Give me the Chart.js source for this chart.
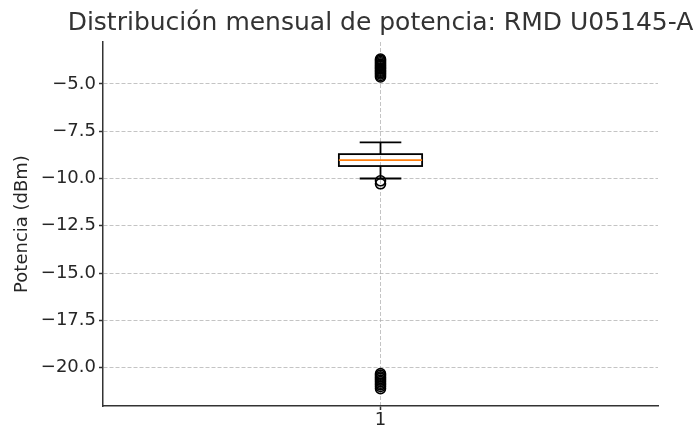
<!DOCTYPE html>
<html>
<head>
<meta charset="utf-8">
<script src="https://cdn.jsdelivr.net/npm/chart.js@4/dist/chart.umd.min.js"></script>
<style>
  html, body { margin: 0; padding: 0; background: #ffffff; }
  #wrap { width: 695px; height: 427px; position: relative; }
</style>
</head>
<body>
<div id="wrap"><canvas id="c"></canvas></div>
<script>
// ---- Data ----
const categories = ['1'];
const boxPosition = [1];
const whiskerLow = [-10.0];
const q1 = [-9.34];
const median = [-9.03];
const q3 = [-8.71];
const whiskerHigh = [-8.09];
const outliersHigh = [-3.68, -3.74, -3.81, -3.88, -3.95, -4.01, -4.07, -4.14, -4.2, -4.27, -4.33, -4.4, -4.47, -4.55, -4.63];
const outliersMid = [-10.12, -10.28];
const outliersLow = [-20.32, -20.4, -20.49, -20.57, -20.66, -20.74, -20.83, -20.91, -21.0, -21.11];
const yTicks = [-20.0, -17.5, -15.0, -12.5, -10.0, -7.5, -5.0];
const xTicks = [1];
const yRange = [-22.03, -2.78];
const xRange = [0.5, 1.5];

const FONT = "'DejaVu Sans', 'Liberation Sans', sans-serif";
const TEXT = '#262626';
const SPINE = '#333333';
const GRID = 'rgba(176,176,176,0.75)';

const outlierPoints = [];
boxPosition.forEach((p) => {
  [...outliersHigh, ...outliersMid, ...outliersLow].forEach(v => outlierPoints.push({ x: p, y: v }));
});

const boxWidth = 0.15;
const capWidth = 0.075;

const boxPlugin = {
  id: 'boxPlot',
  afterLayout(chart) {
    // centre the (wide) title over the plot area, as in the reference
    const tb = chart.titleBlock;
    if (tb) {
      const c = (chart.chartArea.left + chart.chartArea.right) / 2;
      const half = Math.min(c, chart.width - c);
      tb.left = c - half;
      tb.right = c + half;
      tb.width = tb.right - tb.left;
    }
  },
  beforeDatasetsDraw(chart) {
    const { ctx, scales: { x, y } } = chart;
    ctx.save();
    boxPosition.forEach((p, i) => {
      const xl = x.getPixelForValue(p - boxWidth / 2);
      const xr = x.getPixelForValue(p + boxWidth / 2);
      const xc = x.getPixelForValue(p);
      const cl = x.getPixelForValue(p - capWidth / 2);
      const cr = x.getPixelForValue(p + capWidth / 2);
      const yQ1 = y.getPixelForValue(q1[i]);
      const yQ3 = y.getPixelForValue(q3[i]);
      const yMed = y.getPixelForValue(median[i]);
      const yLo = y.getPixelForValue(whiskerLow[i]);
      const yHi = y.getPixelForValue(whiskerHigh[i]);
      ctx.strokeStyle = '#000000';
      ctx.lineWidth = 1.8;
      ctx.setLineDash([]);
      ctx.beginPath();
      ctx.moveTo(xc, yQ1); ctx.lineTo(xc, yLo);
      ctx.moveTo(xc, yQ3); ctx.lineTo(xc, yHi);
      ctx.moveTo(cl, yLo); ctx.lineTo(cr, yLo);
      ctx.moveTo(cl, yHi); ctx.lineTo(cr, yHi);
      ctx.stroke();
      ctx.strokeRect(xl, yQ3, xr - xl, yQ1 - yQ3);
      ctx.strokeStyle = '#ff7f0e';
      ctx.lineWidth = 1.8;
      ctx.beginPath();
      ctx.moveTo(xl, yMed); ctx.lineTo(xr, yMed);
      ctx.stroke();
    });
    ctx.restore();
  }
};

new Chart(document.getElementById('c'), {
  type: 'scatter',
  data: {
    labels: categories,
    datasets: [{
      label: 'Outliers',
      data: outlierPoints,
      pointStyle: 'circle',
      pointRadius: 5,
      pointHoverRadius: 5,
      pointBorderWidth: 1.6,
      pointBackgroundColor: 'rgba(0,0,0,0)',
      pointBorderColor: '#000000'
    }]
  },
  options: {
    responsive: true,
    maintainAspectRatio: false,
    devicePixelRatio: 1,
    animation: false,
    events: [],
    layout: { padding: { left: 0, right: 37, top: 0, bottom: 0 } },
    plugins: {
      legend: { display: false },
      tooltip: { enabled: false },
      title: {
        display: true,
        fullSize: true,
        text: 'Distribución mensual de potencia: RMD U05145-A',
        color: '#333333',
        font: { family: FONT, size: 25, weight: 'normal' },
        padding: { top: 8, bottom: 4 }
      }
    },
    scales: {
      x: {
        type: 'linear',
        min: xRange[0],
        max: xRange[1],
        afterBuildTicks: (s) => { s.ticks = xTicks.map(v => ({ value: v })); },
        afterFit: (s) => { s.height = 21; },
        ticks: {
          color: TEXT,
          font: { family: FONT, size: 18 },
          padding: 0,
          callback: (v) => categories[xTicks.indexOf(v)] ?? ''
        },
        grid: {
          color: GRID,
          lineWidth: 1,
          tickColor: SPINE,
          tickWidth: 1.5,
          tickLength: 4,
          tickBorderDash: []
        },
        border: { display: true, color: SPINE, width: 1.5, dash: [4, 2] }
      },
      y: {
        type: 'linear',
        min: yRange[0],
        max: yRange[1],
        afterBuildTicks: (s) => { s.ticks = yTicks.map(v => ({ value: v })); },
        afterFit: (s) => { s.width = 103; },
        ticks: {
          color: TEXT,
          font: { family: FONT, size: 18 },
          padding: 3,
          callback: (v) => (v < 0 ? '\u2212' : '') + Math.abs(v).toFixed(1)
        },
        grid: {
          color: GRID,
          lineWidth: 1,
          tickColor: SPINE,
          tickWidth: 1.5,
          tickLength: 4,
          tickBorderDash: []
        },
        border: { display: true, color: SPINE, width: 1.5, dash: [4, 2] },
        title: {
          display: true,
          text: 'Potencia (dBm)',
          color: TEXT,
          font: { family: FONT, size: 18, weight: 'normal' },
          padding: { top: 12, bottom: 0 }
        }
      }
    }
  },
  plugins: [boxPlugin]
});
</script>
</body>
</html>
